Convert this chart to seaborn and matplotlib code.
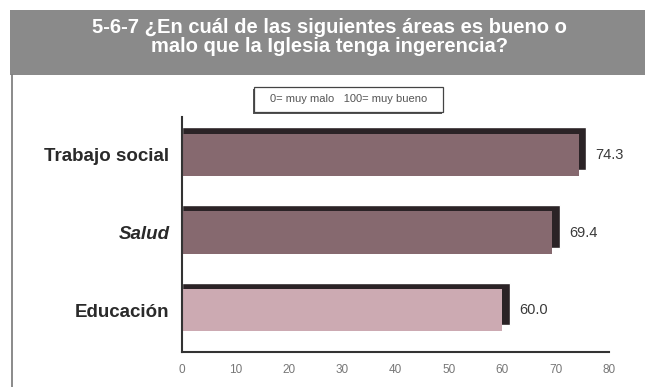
import matplotlib
matplotlib.use("Agg")
import matplotlib.pyplot as plt
import matplotlib.patheffects as pe
from matplotlib.patches import Rectangle
from matplotlib.lines import Line2D
import seaborn as sns
import pandas as pd

# Data
categories = ["Trabajo social", "Salud", "Educación"]
values = [74.3, 69.4, 60.0]
bar_colors = ["#86696f", "#86696f", "#ccaab2"]
x_ticks = [0, 10, 20, 30, 40, 50, 60, 70, 80]
title = "5-6-7 ¿En cuál de las siguientes áreas es bueno o\nmalo que la Iglesia tenga ingerencia?"
scale_note = "0= muy malo   100= muy bueno"

df = pd.DataFrame({"area": categories, "valor": values})

sns.set_theme(style="white")
plt.rcParams["font.family"] = ["Liberation Sans", "DejaVu Sans"]

fig = plt.figure(figsize=(6.49, 3.87), dpi=100)
fig.patch.set_facecolor("white")

# Title band
fig.patches.append(Rectangle((0.0154, 0.806), 0.978, 0.168, transform=fig.transFigure,
                             facecolor="#8a8a8a", edgecolor="none", zorder=0))
fig.text(0.508, 0.905, title, ha="center", va="center", color="white",
         fontsize=14.5, fontweight="bold", linespacing=0.98)

# Left frame line
fig.add_artist(Line2D([0.0185, 0.0185], [0.0, 0.806], transform=fig.transFigure,
                      color="#777777", linewidth=1.2))

# Scale note box
fig.patches.append(Rectangle((0.392, 0.711), 0.291, 0.064, transform=fig.transFigure,
                             facecolor="white", edgecolor="#444444", linewidth=0.9,
                             path_effects=[pe.SimplePatchShadow(offset=(-1.2, -1.2),
                                                                shadow_rgbFace="#555555",
                                                                alpha=1), pe.Normal()]))
fig.text(0.537, 0.743, scale_note, ha="center", va="center", fontsize=8, color="#555555")

ax = fig.add_axes([0.2804, 0.0904, 0.658, 0.6073])

# Dark shadow behind each bar, shifted up and to the right
shadow_dx = 1.4
shadow_dy = 0.08
bar_h = 0.55
ax.barh([i - shadow_dy for i in range(len(values))], [v + shadow_dx for v in values],
        height=bar_h, color="#2b2326", zorder=1)

sns.barplot(data=df, x="valor", y="area", hue="area", palette=bar_colors,
            orient="h", width=bar_h, legend=False, ax=ax, saturation=1,
            edgecolor="none", zorder=2)

# Value labels
for i, v in enumerate(values):
    ax.text(v + 3.2, i, f"{v:.1f}", va="center", ha="left", fontsize=10.5, color="#3a3a3a")

ax.set_xlim(0, 80)
ax.set_ylim(2.54, -0.49)
ax.set_xticks(x_ticks)
ax.set_xticklabels([str(t) for t in x_ticks], fontsize=8.5, color="#777777")
ax.tick_params(axis="x", length=3, width=1, color="#444444", pad=7, direction="inout")
ax.tick_params(axis="y", length=0, pad=9)
for lbl in ax.get_yticklabels():
    lbl.set_fontweight("bold")
    lbl.set_fontsize(13.5)
    lbl.set_color("#2a2a2a")
    if lbl.get_text() == "Salud":
        lbl.set_fontstyle("italic")
ax.set_xlabel("")
ax.set_ylabel("")
for side in ["top", "right"]:
    ax.spines[side].set_visible(False)
for side in ["left", "bottom"]:
    ax.spines[side].set_color("#333333")
    ax.spines[side].set_linewidth(1.5)
    ax.spines[side].set_zorder(3)
ax.set_facecolor("white")

fig.savefig("out.png", dpi=100)
